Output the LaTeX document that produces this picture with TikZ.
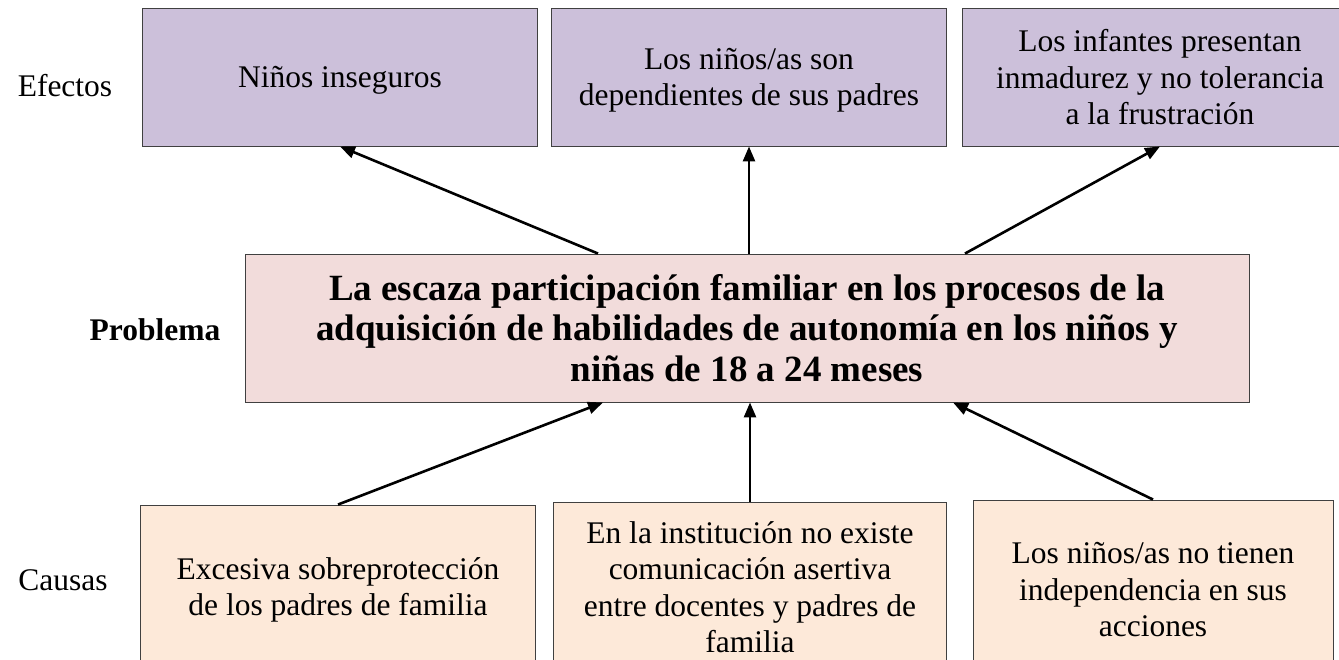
\documentclass[tikz,border=0pt]{standalone}
\usepackage{fontspec}
\setmainfont{Liberation Serif}
\usetikzlibrary{arrows.meta,positioning}

\definecolor{efecto}{HTML}{CCC0DA}
\definecolor{problema}{HTML}{F2DCDB}
\definecolor{causa}{HTML}{FDE9D9}

\newcommand{\txtnormal}{\fontsize{31.5}{36.5}\selectfont}
\newcommand{\txtgrande}{\fontsize{37}{40.5}\selectfont\bfseries}

\begin{document}
\begin{tikzpicture}[x=1pt,y=1pt,
    caja/.style={draw=black!75, line width=0.9pt, align=center, inner sep=0pt,
        minimum width=395pt, minimum height=138pt, font=\txtnormal},
    flecha/.style={-{Triangle[length=15pt,width=12pt]}, line width=2.6pt},
    rotulo/.style={font=\txtnormal}]
    \path[use as bounding box] (0,0) rectangle (1339,659);
    \clip (0,0) rectangle (1339,659);

    % efectos
    \node[caja, fill=efecto, text depth=-6pt] (ef1) at (340,582) {Niños inseguros};
    \node[caja, fill=efecto, text depth=-6pt] (ef2) at (749,582) {Los niños/as son\\dependientes de sus padres};
    \node[caja, fill=efecto, text depth=-6pt] (ef3) at (1160,582) {Los infantes presentan\\inmadurez y no tolerancia\\a la frustración};

    % problema
    \node[caja, fill=problema, minimum width=1004pt, minimum height=148pt, font=\txtgrande] (prob) at (747,331)
        {La escaza participación familiar en los procesos de la\\adquisición de habilidades de autonomía en los niños y\\niñas de 18 a 24 meses};

    % causas
    \node[caja, fill=causa, minimum height=170pt] (ca1) at (338,69) {Excesiva sobreprotección\\de los padres de familia};
    \node[caja, fill=causa, minimum width=393pt, minimum height=170pt] (ca2) at (750,72) {En la institución no existe\\comunicación asertiva\\entre docentes y padres de\\familia};
    \node[caja, fill=causa, minimum width=360pt, minimum height=180pt] (ca3) at (1153,69) {Los niños/as no tienen\\independencia en sus\\acciones};

    \node[rotulo] (lefectos) at (65,573) {Efectos};
    \node[rotulo, font=\txtnormal\bfseries] (lproblema) at (155,329) {Problema};
    \node[rotulo] (lcausas) at (63,79) {Causas};

    \draw[flecha] ([xshift=-149pt]prob.north) -- (ef1.south);
    \draw[flecha] (ef2.south |- prob.north) -- (ef2.south);
    \draw[flecha] ([xshift=218pt]prob.north) -- (ef3.south);

    \draw[flecha] (ca1.north) -- ([xshift=-144pt]prob.south);
    \draw[flecha] (ca2.north) -- (ca2.north |- prob.south);
    \draw[flecha] (ca3.north) -- ([xshift=206pt]prob.south);
\end{tikzpicture}
\end{document}
